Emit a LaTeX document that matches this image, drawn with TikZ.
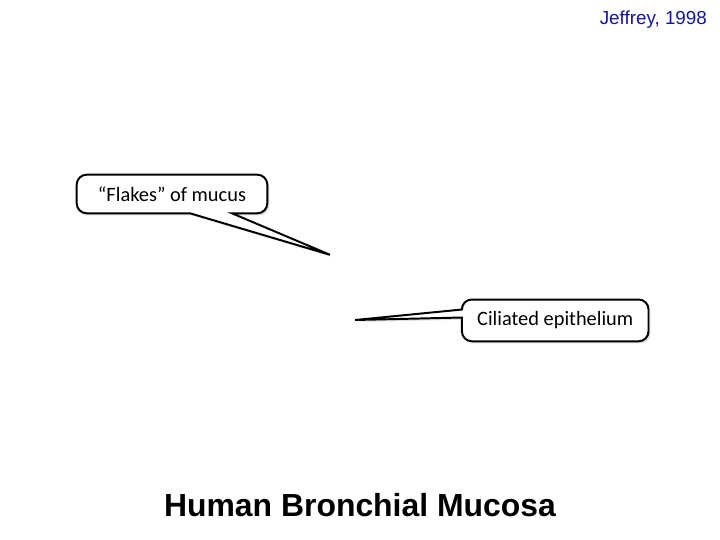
\documentclass[tikz,border=0pt]{standalone}
\usepackage{fontspec}
\setmainfont{Liberation Sans}
\newfontfamily\calloutfont{Carlito}
\usetikzlibrary{shadows}
\definecolor{citeblue}{RGB}{20,20,160}
\tikzset{
  calloutbox/.style={align=center, inner sep=0pt, font=\calloutfont\fontsize{14.5}{17}\selectfont},
  calloutline/.style={draw=black, line width=1.4pt, fill=white, line join=miter,
    drop shadow={opacity=0.25, shadow xshift=1.5pt, shadow yshift=-1.5pt}}
}
\begin{document}
\begin{tikzpicture}
\useasboundingbox (0,0) rectangle (18,13.5);
\node[anchor=east, inner sep=0pt, text=citeblue, font=\fontsize{13.4}{15}\selectfont] (cite) at (17.68,13.0) {Jeffrey, 1998};
\coordinate (flakestip) at (8.25,7.13);
\coordinate (ciliatip) at (8.88,5.5);
\node[calloutbox, minimum width=4.75cm, minimum height=0.95cm] (flakes) at (4.3,8.65) {\phantom{x}};
\node[calloutbox, minimum width=4.65cm, minimum height=1.03cm] (cilia) at (13.88,5.49) {\phantom{x}};
\path[calloutline] (flakestip) -- ([xshift=3.88cm]flakes.south west)
  [rounded corners=7pt] -- (flakes.south east) -- (flakes.north east) -- (flakes.north west) -- (flakes.south west)
  [sharp corners] -- ([xshift=2.83cm]flakes.south west) -- cycle;
\path[calloutline] (ciliatip) -- ([yshift=-0.45cm]cilia.north west)
  [rounded corners=7pt] -- (cilia.south west) -- (cilia.south east) -- (cilia.north east) -- (cilia.north west)
  [sharp corners] -- ([yshift=-0.25cm]cilia.north west) -- cycle;
\node[calloutbox] (flakestext) at (flakes) {“Flakes” of mucus};
\node[calloutbox] (ciliatext) at (cilia) {Ciliated epithelium};
\node[font=\bfseries\fontsize{22.7}{25}\selectfont] (title) at (9,0.88) {Human Bronchial Mucosa};
\end{tikzpicture}
\end{document}
